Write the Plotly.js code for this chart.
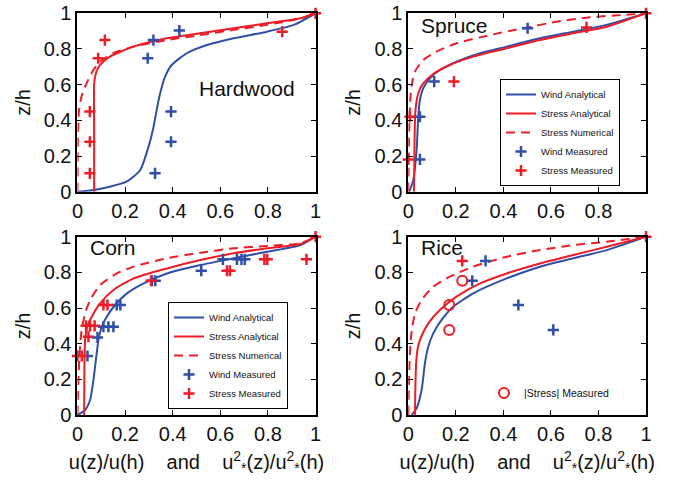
<!DOCTYPE html>
<html>
<head>
<meta charset="utf-8">
<script src="https://cdn.plot.ly/plotly-3.0.1.min.js"></script>
<style>html,body{margin:0;padding:0;background:#fff;}#chart{width:679px;height:483px;}</style>
</head>
<body>
<div id="chart"></div>
<script>
// ---------------- DATA ----------------
// Hardwood
var hwWindX = [0, 0.07, 0.136, 0.206, 0.263, 0.298, 0.319, 0.333, 0.347, 0.368, 0.396, 0.459, 0.544, 0.656, 0.796, 0.909, 1];
var hwWindY = [0, 0.01, 0.028, 0.056, 0.12, 0.25, 0.36, 0.46, 0.55, 0.645, 0.71, 0.776, 0.822, 0.86, 0.897, 0.935, 1];
var hwStressX = [0.07, 0.07, 0.07, 0.074, 0.08, 0.094, 0.136, 0.235, 0.375, 0.515, 0.656, 0.796, 0.937, 1];
var hwStressY = [0, 0.35, 0.6, 0.645, 0.675, 0.71, 0.757, 0.813, 0.86, 0.888, 0.916, 0.944, 0.972, 1];
var hwNumX = [0, 0.002, 0.006, 0.017, 0.038, 0.066, 0.094, 0.15, 0.235, 0.375, 0.515, 0.656, 0.796, 0.937, 1];
var hwNumY = [0, 0.3, 0.45, 0.533, 0.607, 0.68, 0.729, 0.776, 0.813, 0.85, 0.878, 0.907, 0.935, 0.972, 1];
var hwWindMX = [0.319, 0.428, 0.295, 0.393, 0.393, 0.326];
var hwWindMY = [0.85, 0.903, 0.748, 0.449, 0.28, 0.103];
var hwStressMX = [0.115, 0.087, 0.052, 0.052, 0.052, 0.86, 1];
var hwStressMY = [0.85, 0.748, 0.449, 0.28, 0.103, 0.897, 1];
// Spruce
var spWindX = [0.004, 0.021, 0.035, 0.042, 0.049, 0.063, 0.091, 0.133, 0.203, 0.302, 0.414, 0.554, 0.694, 0.835, 1];
var spWindY = [0, 0.065, 0.234, 0.42, 0.514, 0.58, 0.636, 0.682, 0.729, 0.776, 0.813, 0.86, 0.897, 0.935, 1];
var spStressX = [0.024, 0.026, 0.029, 0.034, 0.044, 0.063, 0.105, 0.175, 0.273, 0.414, 0.554, 0.694, 0.835, 1];
var spStressY = [0, 0.25, 0.43, 0.5, 0.56, 0.607, 0.66, 0.71, 0.757, 0.804, 0.85, 0.888, 0.925, 1];
var spNumX = [0, 0.004, 0.009, 0.016, 0.028, 0.063, 0.119, 0.203, 0.344, 0.484, 0.624, 0.764, 0.905, 1];
var spNumY = [0, 0.35, 0.53, 0.61, 0.673, 0.738, 0.785, 0.832, 0.878, 0.916, 0.953, 0.978, 0.991, 1];
var spWindMX = [0.502, 0.109, 0.049, 0.049];
var spWindMY = [0.916, 0.617, 0.42, 0.181];
var spStressMX = [0.75, 0.192, 0.007, 0.0, 1];
var spStressMY = [0.921, 0.617, 0.42, 0.181, 1];
// Corn
var coWindX = [0, 0.032, 0.053, 0.067, 0.079, 0.088, 0.102, 0.123, 0.158, 0.208, 0.278, 0.376, 0.516, 0.656, 0.797, 0.937, 1];
var coWindY = [0, 0.028, 0.084, 0.196, 0.327, 0.42, 0.495, 0.551, 0.617, 0.682, 0.738, 0.794, 0.841, 0.879, 0.916, 0.953, 1];
var coStressX = [0.028, 0.029, 0.032, 0.04, 0.06, 0.095, 0.151, 0.236, 0.376, 0.516, 0.656, 0.797, 0.937, 1];
var coStressY = [0, 0.25, 0.42, 0.49, 0.551, 0.626, 0.701, 0.766, 0.822, 0.869, 0.907, 0.935, 0.959, 1];
var coNumX = [0, 0.004, 0.009, 0.017, 0.032, 0.053, 0.095, 0.165, 0.236, 0.376, 0.516, 0.656, 0.797, 0.937, 1];
var coNumY = [0, 0.2, 0.35, 0.47, 0.57, 0.645, 0.729, 0.794, 0.832, 0.879, 0.91, 0.935, 0.948, 0.963, 1];
var coWindMX = [0.042, 0.084, 0.109, 0.13, 0.151, 0.165, 0.18, 0.313, 0.327, 0.52, 0.611, 0.67, 0.689, 0.703];
var coWindMY = [0.331, 0.435, 0.495, 0.495, 0.495, 0.617, 0.617, 0.753, 0.753, 0.809, 0.873, 0.873, 0.873, 0.873];
var coStressMX = [0, 0.018, 0.046, 0.036, 0.053, 0.072, 0.109, 0.126, 0.309, 0.628, 0.64, 0.785, 0.797, 0.962, 1];
var coStressMY = [0.331, 0.331, 0.439, 0.5, 0.5, 0.5, 0.617, 0.617, 0.753, 0.809, 0.809, 0.873, 0.873, 0.873, 1];
// Rice
var riWindX = [0.014, 0.035, 0.056, 0.07, 0.084, 0.105, 0.14, 0.189, 0.273, 0.414, 0.554, 0.694, 0.835, 1];
var riWindY = [0, 0.037, 0.14, 0.29, 0.383, 0.458, 0.533, 0.607, 0.682, 0.766, 0.832, 0.879, 0.925, 1];
var riStressX = [0.028, 0.03, 0.034, 0.042, 0.058, 0.084, 0.133, 0.203, 0.302, 0.414, 0.554, 0.694, 0.835, 1];
var riStressY = [0, 0.17, 0.31, 0.39, 0.45, 0.514, 0.589, 0.664, 0.738, 0.794, 0.85, 0.897, 0.944, 1];
var riNumX = [0, 0.004, 0.009, 0.016, 0.03, 0.056, 0.105, 0.175, 0.273, 0.414, 0.554, 0.694, 0.835, 1];
var riNumY = [0, 0.25, 0.4, 0.49, 0.575, 0.645, 0.72, 0.776, 0.832, 0.888, 0.925, 0.953, 0.972, 1];
var riWindMX = [0.325, 0.269, 0.463, 0.61];
var riWindMY = [0.864, 0.753, 0.617, 0.477];
var riStressMX = [0.227, 1];
var riStressMY = [0.864, 1];
var riAbsStressX = [0.227, 0.172, 0.172];
var riAbsStressY = [0.753, 0.617, 0.477];

var panelNames = ["Hardwood", "Spruce", "Corn", "Rice"];
var seriesNames = ["Wind Analytical", "Stress Analytical", "Stress Numerical", "Wind Measured", "Stress Measured", "|Stress| Measured"];
var tickVals = [0, 0.2, 0.4, 0.6, 0.8, 1];
var tickValsSpruce = [0, 0.2, 0.4, 0.6, 0.8];

// ---------------- STYLE ----------------
var BLUE = "#2f4fa8";
var RED = "#ee1c25";
var FONT = "Liberation Sans, Arial, Helvetica, sans-serif";

function lineTrace(x, y, color, dash, name, ax, legend, show) {
  return {x: x, y: y, type: "scatter", mode: "lines", name: name,
    line: {color: color, width: 2, dash: dash || "solid", shape: "spline", smoothing: 0.6},
    xaxis: "x" + ax, yaxis: "y" + ax, legend: legend, showlegend: show, hoverinfo: "skip"};
}
function markTrace(x, y, color, symbol, name, ax, legend, show, size, lw) {
  return {x: x, y: y, type: "scatter", mode: "markers", name: name, cliponaxis: false,
    marker: {symbol: symbol, size: size, color: color, line: {color: color, width: lw}},
    xaxis: "x" + ax, yaxis: "y" + ax, legend: legend, showlegend: show, hoverinfo: "skip"};
}

var DASH = "9px,6px";
var panels = [
  {ax: "", w: [hwWindX, hwWindY], s: [hwStressX, hwStressY], n: [hwNumX, hwNumY], wm: [hwWindMX, hwWindMY], sm: [hwStressMX, hwStressMY], legend: "legend", show: false},
  {ax: "2", w: [spWindX, spWindY], s: [spStressX, spStressY], n: [spNumX, spNumY], wm: [spWindMX, spWindMY], sm: [spStressMX, spStressMY], legend: "legend2", show: true},
  {ax: "3", w: [coWindX, coWindY], s: [coStressX, coStressY], n: [coNumX, coNumY], wm: [coWindMX, coWindMY], sm: [coStressMX, coStressMY], legend: "legend3", show: true},
  {ax: "4", w: [riWindX, riWindY], s: [riStressX, riStressY], n: [riNumX, riNumY], wm: [riWindMX, riWindMY], sm: [riStressMX, riStressMY], legend: "legend", show: false}
];

var traces = [];
panels.forEach(function (p) {
  traces.push(lineTrace(p.w[0], p.w[1], BLUE, "solid", seriesNames[0], p.ax, p.legend, p.show));
  traces.push(lineTrace(p.s[0], p.s[1], RED, "solid", seriesNames[1], p.ax, p.legend, p.show));
  traces.push(lineTrace(p.n[0], p.n[1], RED, DASH, seriesNames[2], p.ax, p.legend, p.show));
  traces.push(markTrace(p.wm[0], p.wm[1], BLUE, "cross-thin", seriesNames[3], p.ax, p.legend, p.show, 8, 2.5));
  traces.push(markTrace(p.sm[0], p.sm[1], RED, "cross-thin", seriesNames[4], p.ax, p.legend, p.show, 8, 2.5));
});
traces.push(markTrace(riAbsStressX, riAbsStressY, RED, "circle-open", seriesNames[5], "4", "legend4", true, 10, 2));

function xAxis(domain, anchor, tv, withTitle) {
  var a = {domain: domain, anchor: anchor, range: [0, 1], tickvals: tv, ticktext: tv.map(String),
    showline: true, linecolor: "#000", linewidth: 2, mirror: "ticks", ticks: "inside", ticklen: 5,
    tickcolor: "#000", tickwidth: 1, showgrid: false, zeroline: false, fixedrange: true,
    tickfont: {family: FONT, size: 20, color: "#111"}};
  if (withTitle) {
    a.title = {text: "u(z)/u(h)\u00a0\u00a0\u00a0\u00a0and\u00a0\u00a0\u00a0\u00a0u<sup>2</sup><sub>*</sub>(z)/u<sup>2</sup><sub>*</sub>(h)",
      font: {family: FONT, size: 20, color: "#111"}, standoff: 11};
  }
  return a;
}
function yAxis(domain, anchor) {
  return {domain: domain, anchor: anchor, range: [0, 1], tickvals: tickVals, ticktext: tickVals.map(String),
    showline: true, linecolor: "#000", linewidth: 2, mirror: "ticks", ticks: "inside", ticklen: 5,
    tickcolor: "#000", tickwidth: 1, showgrid: false, zeroline: false, fixedrange: true,
    tickfont: {family: FONT, size: 20, color: "#111"},
    title: {text: "z/h", font: {family: FONT, size: 20, color: "#111"}, standoff: 8}};
}

var XL = [0.1141, 0.4647], XR = [0.6013, 0.9514];
var YT = [0.6031, 0.9725], YB = [0.1408, 0.5099];

function lab(text, x, y, ax, xanchor) {
  return {text: text, x: x, y: y, xref: "x" + ax, yref: "y" + ax, xanchor: xanchor, yanchor: "middle",
    showarrow: false, font: {family: FONT, size: 21, color: "#111"}};
}

var legendBase = {bgcolor: "#fff", bordercolor: "#000", borderwidth: 1,
  font: {family: FONT, size: 9.5, color: "#111"}, xanchor: "left", yanchor: "bottom", tracegroupgap: 0};

var layout = {
  width: 679, height: 483, margin: {l: 0, r: 0, t: 0, b: 0},
  paper_bgcolor: "#fff", plot_bgcolor: "#fff",
  xaxis: xAxis(XL, "y", tickVals, false), yaxis: yAxis(YT, "x"),
  xaxis2: xAxis(XR, "y2", tickValsSpruce, false), yaxis2: yAxis(YT, "x2"),
  xaxis3: xAxis(XL, "y3", tickVals, true), yaxis3: yAxis(YB, "x3"),
  xaxis4: xAxis(XR, "y4", tickVals, true), yaxis4: yAxis(YB, "x4"),
  showlegend: true,
  legend2: Object.assign({}, legendBase, {x: 500 / 679, y: 1 - 186 / 483}),
  legend3: Object.assign({}, legendBase, {x: 168 / 679, y: 1 - 409 / 483}),
  legend4: {bgcolor: "rgba(0,0,0,0)", borderwidth: 0, font: {family: FONT, size: 10.5, color: "#111"},
    x: 484 / 679, y: 1 - 393 / 483, xanchor: "left", yanchor: "middle"},
  annotations: [
    lab(panelNames[0], 0.712, 0.576, "", "center"),
    lab(panelNames[1], 0.045, 0.934, "2", "left"),
    lab(panelNames[2], 0.045, 0.937, "3", "left"),
    lab(panelNames[3], 0.045, 0.937, "4", "left")
  ]
};

Plotly.newPlot("chart", traces, layout, {staticPlot: true, displayModeBar: false});
</script>
</body>
</html>
